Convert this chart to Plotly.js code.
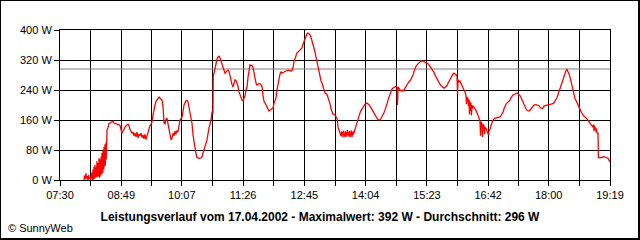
<!DOCTYPE html>
<html>
<head>
<meta charset="utf-8">
<script src="https://cdn.plot.ly/plotly-3.0.1.min.js"></script>
<style>
  html, body { margin: 0; padding: 0; background: #fff; }
  #wrap { position: relative; width: 640px; height: 240px; }
  #chart { position: absolute; left: 0; top: 0; width: 640px; height: 240px; }
  #frame { position: absolute; left: 0; top: 0; width: 637px; height: 237px;
           border-left: 1px solid #000; border-top: 1px solid #000;
           border-right: 2px solid #000; border-bottom: 2px solid #000; pointer-events: none; }
</style>
</head>
<body>
<div id="wrap"><div id="chart"></div><div id="frame"></div></div>
<script>
// ---- data ----
const startTime = "07:30";
const tickLabels = ["07:30","08:49","10:07","11:26","12:45","14:04","15:23","16:42","18:00","19:19"];
const powerTicks = [0, 80, 160, 240, 320, 400];
const powerUnit = " W";
const averageW = 296;
const maximumW = 392;
const dateText = "17.04.2002";

// minutes after 07:30
const minutes = [
30.9,31.6,32.2,33.5,34.2,34.8,36.1,36.7,37.4,38.7,39.3,40.0,
41.3,41.6,41.9,42.3,42.5,42.9,43.2,43.5,43.8,44.1,44.5,44.8,45.1,45.4,45.8,46.1,46.4,46.7,47.1,47.4,47.7,48.0,48.3,48.7,49.0,49.3,49.6,50.0,50.3,50.6,50.9,51.2,51.6,51.9,52.2,52.5,52.9,53.2,53.5,53.8,54.1,54.5,54.8,55.1,55.4,55.8,56.1,56.4,56.7,57.0,57.4,57.7,58.0,58.3,58.7,59.0,59.3,59.6,59.9,
60.6,61.9,63.2,64.5,67.0,68.3,69.6,72.2,74.8,77.3,78.6,79.9,81.2,83.8,86.4,87.7,88.9,90.2,92.8,94.1,95.4,96.7,98.0,99.3,100.6,101.8,103.1,104.4,105.7,107.0,108.3,109.6,110.9,112.2,113.4,114.7,116.0,117.3,118.6,119.9,121.2,122.5,123.8,126.3,127.6,128.9,131.5,132.8,134.1,135.4,136.6,137.9,139.2,140.5,141.8,143.1,144.4,145.7,147.0,148.2,149.5,150.8,152.1,153.4,154.7,157.3,158.6,159.9,162.4,163.7,165.0,166.3,167.6,168.9,170.2,171.5,172.7,174.0,175.3,176.6,179.2,181.8,183.1,184.3,186.9,189.5,192.1,194.7,195.9,197.2,197.5,
199.8,201.1,202.4,203.7,205.0,206.3,207.5,208.8,210.1,211.4,212.7,214.0,216.6,217.9,219.1,220.4,221.7,223.0,224.3,225.6,226.9,228.2,229.5,230.8,232.0,233.3,234.6,235.9,237.2,238.5,239.8,241.1,242.4,243.6,244.9,246.2,247.5,248.8,250.1,251.4,252.7,254.0,255.2,257.8,259.1,260.4,261.7,263.0,265.6,266.8,268.1,269.4,270.7,273.3,274.6,275.9,278.5,279.7,281.0,282.3,283.6,284.9,286.2,288.8,290.0,292.6,295.2,297.8,299.1,300.4,301.6,302.9,304.2,305.5,306.8,309.4,312.0,313.3,314.5,315.8,317.1,318.4,319.7,321.0,322.3,323.6,324.9,326.1,327.4,328.7,330.0,331.3,332.6,333.9,335.2,336.5,337.7,339.0,340.3,341.6,344.2,345.5,346.8,348.1,349.3,350.6,351.9,354.5,355.8,357.1,358.4,359.7,360.9,
362.2,362.9,363.5,364.2,364.8,365.5,366.1,366.7,367.4,368.0,368.7,369.3,370.0,370.6,371.3,371.9,372.6,373.2,373.8,374.5,375.1,375.8,376.4,377.1,377.7,378.4,379.0,380.3,381.6,382.9,384.2,386.7,388.0,389.3,390.6,393.2,395.8,397.1,398.3,399.6,400.9,402.2,403.5,404.8,406.1,407.4,408.6,409.9,411.2,412.5,413.8,415.1,416.4,417.7,419.0,420.2,421.5,422.8,424.1,425.4,426.7,428.0,429.3,431.8,433.1,434.4,435.1,435.7,437.0,438.3,439.6,440.9,442.2,443.4,444.7,447.3,448.6,449.9,451.2,452.5,453.8,455.1,456.4,457.6,458.9,460.2,461.5,462.8,464.1,465.4,466.7,468.0,469.3,470.5,471.8,473.1,474.4,475.7,477.0,478.3,479.5,480.8,482.1,483.4,484.7,486.0,487.3,488.6,489.9,491.1,492.4,493.7,495.0,496.3,497.6,498.9,500.2,501.5,502.7,504.0,505.3,506.6,507.9,509.2,510.5,511.8,512.4,513.1,514.3,515.6,516.9,518.2,519.5,520.8,522.1,523.4,524.0,524.7,525.3,526.0,526.6,527.2,527.9,528.5,529.2,529.8,530.4,531.1,531.7,532.4,533.7,535.0,536.3,537.6,538.8,540.1,541.4,542.1,542.7,544.0,544.6,545.3,546.6,547.2,547.9,549.2,550.4,551.7,552.4,553.0,554.3,555.6,556.9,558.2,559.5,560.8,563.3,565.9,567.2,568.5,569.8,571.1,572.4,573.6,574.9,576.2,577.5,578.8,580.1,581.4,582.7,584.0,585.3,586.5,587.8,589.1,590.4,591.7,593.0,594.3,595.6,596.9,598.1,599.4,600.7,602.0,603.3,604.6,605.9,607.2,608.5,609.8,611.0,613.6,616.2,617.5,618.8,620.1,621.4,622.6,623.9,626.5,629.1,631.7,634.2,636.8,638.1,639.4,640.7,642.0,643.3,644.5,645.8,647.1,648.4,649.7,651.0,652.3,653.6,654.9,656.1,657.4,658.7,660.0,661.3,662.6,663.9,665.2,666.5,667.8,669.0,670.3,671.6,672.9,674.2,675.5,676.8,678.1,679.4,680.7,681.9,683.2,684.5,685.8,687.1,687.8,688.4,689.1,689.7,690.4,691.0,691.6,692.3,693.6,694.0,696.1,698.7,701.3,703.9,706.4,707.7,709.0
];

// power in W
const watts = [
0,12,2,18,4,10,0,14,3,8,0,5,
20,3,24,0,28,6,22,2,35,8,30,4,40,12,34,6,30,10,45,14,50,8,42,16,45,12,52,10,58,18,48,6,55,20,60,12,62,15,58,22,72,25,68,18,78,30,75,28,88,35,82,40,95,38,90,45,100,55,110,
133,140,150,152,155,157,152,150,149,146,135,125,130,141,147,149,145,135,125,128,118,125,115,128,112,122,118,125,113,120,110,122,108,118,125,130,145,148,155,173,190,200,210,219,221,218,213,195,152,150,162,165,150,130,115,107,112,125,118,130,122,132,128,145,160,168,190,200,211,212,208,195,180,165,150,120,100,85,70,60,58,59,62,72,90,107,139,160,181,180,275,
300,312,322,328,330,325,318,305,298,290,285,288,293,290,277,268,255,248,262,267,265,259,250,235,227,222,213,211,218,225,240,248,275,295,307,305,306,300,285,267,258,253,256,257,254,250,225,210,200,195,190,184,186,190,192,205,219,240,255,270,282,288,285,288,290,292,293,290,292,300,315,325,330,339,341,347,352,362,370,379,385,390,392,389,387,380,372,365,352,341,328,315,300,288,272,264,259,250,240,232,228,220,215,203,190,179,176,173,170,165,141,135,125,
118,130,115,128,120,132,113,126,118,130,115,128,121,133,116,127,119,131,114,126,122,132,115,128,120,130,125,135,145,155,163,179,185,190,195,202,205,204,201,197,192,186,181,176,172,168,165,161,160,160,164,169,172,180,187,193,203,213,220,228,237,243,245,248,250,247,200,247,245,240,237,237,240,237,245,256,258,262,265,268,275,280,290,299,303,307,309,312,315,318,316,318,315,314,313,312,310,307,303,300,296,293,287,280,275,268,262,258,255,252,250,248,245,247,249,252,258,263,270,275,280,283,285,284,281,277,229,268,262,264,257,250,247,240,235,225,202,222,210,218,197,215,175,210,185,205,172,200,190,198,195,190,185,180,173,165,157,118,155,150,115,148,145,122,140,138,132,128,120,130,135,145,155,160,163,165,166,166,168,172,176,181,190,198,202,205,207,210,213,220,225,227,228,230,232,232,230,228,225,220,213,208,200,195,190,186,184,184,186,189,193,197,200,201,200,198,194,191,190,192,197,199,200,201,203,206,210,215,220,228,236,245,255,263,272,279,286,292,295,290,283,275,262,253,240,227,217,212,205,198,192,187,183,178,173,170,168,166,163,158,155,152,148,145,141,148,130,145,135,140,128,137,125,125,60,59,61,62,60,58,53,48
];

// ---- helpers ----
function toMin(t){ const p = t.split(":"); return (+p[0])*60 + (+p[1]); }
const t0 = toMin(startTime);
const majorVals = tickLabels.map(t => toMin(t) - t0);
const tickVals = [], tickText = [];
for (let i = 0; i < majorVals.length; i++) {
  tickVals.push(majorVals[i]); tickText.push(tickLabels[i]);
  if (i < majorVals.length - 1) { tickVals.push((majorVals[i] + majorVals[i+1]) / 2); tickText.push(""); }
}
const xMax = majorVals[majorVals.length - 1];
const yTickText = powerTicks.map(v => v + powerUnit);

const traces = [
  { x: [0, xMax], y: [averageW, averageW], mode: "lines",
    line: { color: "#808080", width: 1 }, hoverinfo: "skip", showlegend: false },
  { x: minutes, y: watts, mode: "lines",
    line: { color: "#ff0000", width: 1.3 }, hoverinfo: "skip", showlegend: false }
];

const font = { family: "Liberation Sans, Arial, sans-serif", size: 11, color: "#000" };
const layout = {
  width: 640, height: 240,
  margin: { l: 60, r: 30, t: 30, b: 60, pad: 0 },
  paper_bgcolor: "#fff", plot_bgcolor: "#fff",
  font: font,
  showlegend: false,
  title: {
    text: "Leistungsverlauf vom " + dateText + " - Maximalwert: " + maximumW + powerUnit + " - Durchschnitt: " + averageW + powerUnit,
    font: { family: "Liberation Sans, Arial, sans-serif", size: 12, color: "#000", weight: "bold" },
    x: 0.5, xref: "container", xanchor: "center",
    y: 1 - 217/240, yref: "container", yanchor: "middle"
  },
  xaxis: {
    range: [0, xMax], tickmode: "array", tickvals: tickVals, ticktext: tickText,
    showgrid: true, gridcolor: "#000", gridwidth: 1,
    ticks: "outside", ticklen: 5, tickwidth: 1, tickcolor: "#000",
    showline: true, linecolor: "#000", linewidth: 1, mirror: true,
    zeroline: false, fixedrange: true, tickfont: font
  },
  yaxis: {
    range: [0, 400], tickmode: "array", tickvals: powerTicks, ticktext: yTickText,
    showgrid: true, gridcolor: "#000", gridwidth: 1,
    ticks: "outside", ticklen: 5, tickwidth: 1, tickcolor: "#000",
    showline: true, linecolor: "#000", linewidth: 1, mirror: true,
    zeroline: false, fixedrange: true, tickfont: font
  },
  annotations: [{
    text: "© SunnyWeb", showarrow: false,
    xref: "paper", yref: "paper", x: (6 - 60)/550, y: (180 - 228)/150,
    xanchor: "left", yanchor: "middle", font: font
  }]
};

Plotly.newPlot("chart", traces, layout, { staticPlot: true, displayModeBar: false });
</script>
</body>
</html>
